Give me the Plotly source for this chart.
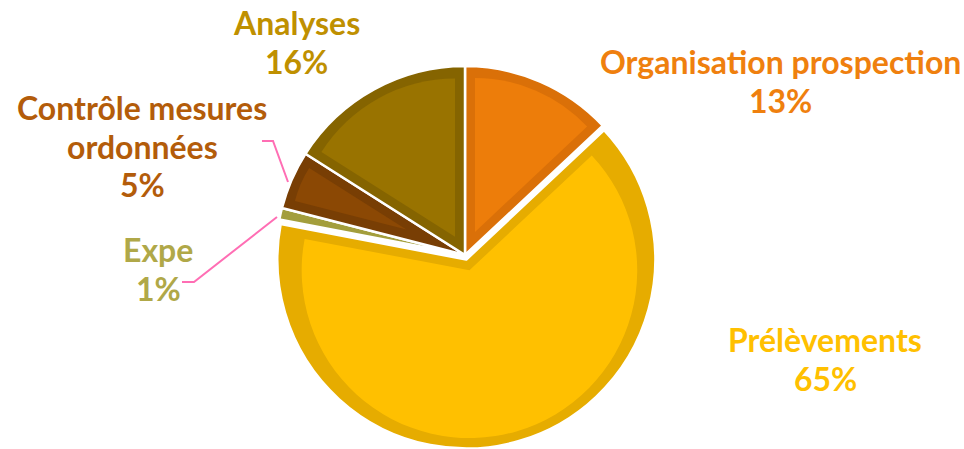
import math

import plotly.graph_objects as go

W, H = 964, 449

labels = ["Organisation prospection", "Prélèvements", "Expe", "Contrôle mesures ordonnées", "Analyses"]
values = [13, 65, 1, 5, 16]
label_lines = [["Organisation prospection"], ["Prélèvements"], ["Expe"], ["Contrôle mesures", "ordonnées"], ["Analyses"]]
pulls = [0, 0.025, 0, 0, 0]

border_colors = ["#DA7008", "#E6AC00", "#A39E3C", "#783E04", "#856400"]
fill_colors = ["#ED7D0A", "#FFC000", None, "#8B4804", "#997300"]
text_colors = ["#EF800E", "#FFC000", "#B0A848", "#B35C0A", "#BF9000"]

# pie geometry in px
cx, cy, R, b = 465, 255, 189, 10
# label centres (px)
label_pos = [(780, 81), (825, 359), (158, 269), (142, 146), (296, 42)]


def px(x):
    return x / W


def py(y):
    return 1 - y / H


def square_domain(size):
    return dict(x=[px(cx - size / 2), px(cx + size / 2)],
                y=[max(0, py(cy + size / 2)), min(1, py(cy - size / 2))])


fig = go.Figure()

# base pie: darker shade = the inner border of each slice
max_pull = max(pulls)
fig.add_trace(go.Pie(
    labels=labels, values=values, sort=False, direction="clockwise", rotation=0,
    pull=pulls, textinfo="none", hoverinfo="label+percent", showlegend=False,
    marker=dict(colors=border_colors, line=dict(color="white", width=2.5)),
    domain=square_domain(2 * R * (1 + max_pull)),
))

# lighter inner part of each slice, inset by b px using the pull offset
total = sum(values)
for i, v in enumerate(values):
    if fill_colors[i] is None:
        continue
    theta = 2 * math.pi * v / total
    d = b / math.sin(theta / 2)
    r_in = R - b - d
    if r_in <= 5:
        continue
    shift = pulls[i] * R + d
    p = [0] * len(values)
    p[i] = shift / r_in
    cols = ["rgba(0,0,0,0)"] * len(values)
    cols[i] = fill_colors[i]
    fig.add_trace(go.Pie(
        labels=labels, values=values, sort=False, direction="clockwise", rotation=0,
        pull=p, textinfo="none", hoverinfo="skip", showlegend=False,
        marker=dict(colors=cols, line=dict(width=0)),
        domain=square_domain(2 * (r_in + shift)),
    ))

# labels
total_pct = [round(100 * v / total) for v in values]
for i in range(len(values)):
    lines = label_lines[i] + [f"{total_pct[i]}%"]
    n = len(lines)
    for k, line in enumerate(lines):
        yk = label_pos[i][1] + (k - (n - 1) / 2) * 38.5
        fig.add_annotation(
            x=px(label_pos[i][0]), y=py(yk), xref="paper", yref="paper",
            text=f"<b>{line}</b>", showarrow=False, xanchor="center", yanchor="middle",
            font=dict(family="Lato", size=32, color=text_colors[i]),
        )

# leader lines for the two small slices
leaders = [
    [(262, 141), (273, 141), (288, 182)],
    [(182, 282), (194, 282), (277, 217)],
]
for pts in leaders:
    path = "M " + " L ".join(f"{px(x):.5f},{py(y):.5f}" for x, y in pts)
    fig.add_shape(type="path", path=path, xref="paper", yref="paper",
                  line=dict(color="#FF6EB4", width=2))

fig.update_layout(
    width=W, height=H, margin=dict(l=0, r=0, t=0, b=0),
    paper_bgcolor="white", plot_bgcolor="white",
    font=dict(family="Lato"),
)

fig.write_html("out.html", config={"displayModeBar": False},
               post_script="document.body.style.margin = '0';")
